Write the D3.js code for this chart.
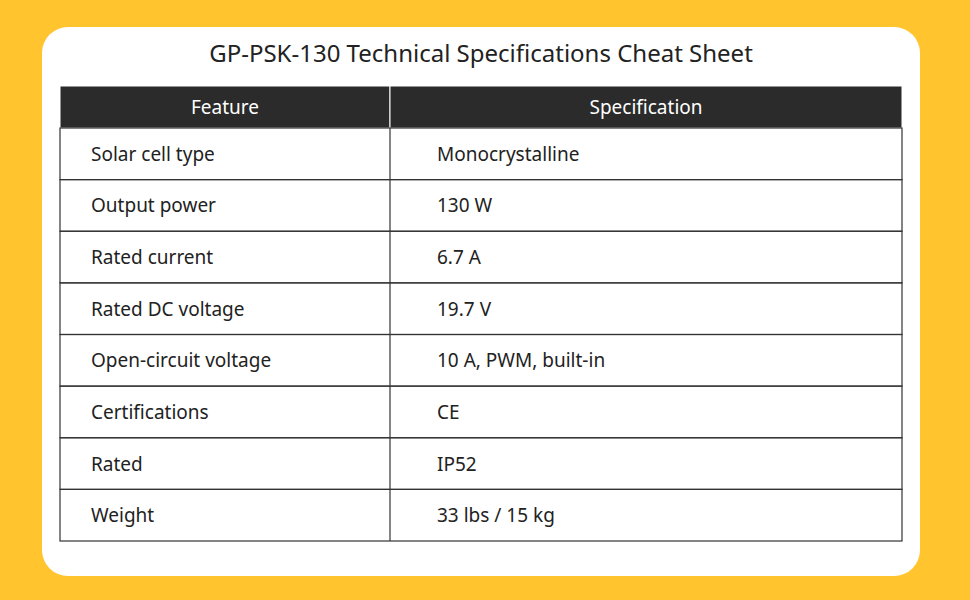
<!DOCTYPE html>
<html lang="en">
<head>
<meta charset="UTF-8">
<title>GP-PSK-130 Specs</title>
<script src="https://cdn.jsdelivr.net/npm/d3@7"></script>
<style>body{margin:0;background:#ffc42e;}</style>
</head>
<body>
<script>
var columns = ["Feature", "Specification"];
var features = ["Solar cell type", "Output power", "Rated current", "Rated DC voltage",
    "Open-circuit voltage", "Certifications", "Rated", "Weight"];
var specs = ["Monocrystalline", "130 W", "6.7 A", "19.7 V",
    "10 A, PWM, built-in", "CE", "IP52", "33 lbs / 15 kg"];

var width = 970, height = 600;
var left = 60, right = 902, split = 390, headTop = 86, headBottom = 128, bottom = 541;

var svg = d3.select("body").append("svg")
    .attr("width", width).attr("height", height)
    .style("font-family", "'Noto Sans', 'Open Sans', sans-serif");

svg.append("rect").attr("width", width).attr("height", height).attr("fill", "#ffc42e");
svg.append("rect").attr("x", 42).attr("y", 27).attr("width", 878).attr("height", 549)
    .attr("rx", 26).attr("fill", "#fff");

svg.append("text").attr("x", (left + right) / 2).attr("y", 62)
    .attr("text-anchor", "middle").attr("font-size", 24).attr("fill", "#222")
    .text("GP-PSK-130 Technical Specifications Cheat Sheet");

var x = d3.scaleOrdinal().domain(columns).range([[left, split], [split, right]]);
var y = d3.scaleBand().domain(d3.range(features.length)).range([headBottom, bottom]);

// header
svg.selectAll(".head").data(columns).enter().append("rect")
    .attr("x", function(d) { return x(d)[0]; }).attr("y", headTop)
    .attr("width", function(d) { return x(d)[1] - x(d)[0]; })
    .attr("height", headBottom - headTop)
    .attr("fill", "#2b2b2b").attr("stroke", "#fff").attr("stroke-width", 1);
svg.selectAll(".headText").data(columns).enter().append("text")
    .attr("x", function(d) { return (x(d)[0] + x(d)[1]) / 2; })
    .attr("y", (headTop + headBottom) / 2 + 7)
    .attr("text-anchor", "middle").attr("font-size", 19).attr("fill", "#fff")
    .text(function(d) { return d; });

// rows
var rows = svg.selectAll(".row").data(features).enter().append("g")
    .attr("transform", function(d, i) { return "translate(0," + y(i) + ")"; });
rows.append("rect").attr("x", left).attr("width", right - left).attr("height", y.bandwidth())
    .attr("fill", "none").attr("stroke", "#333").attr("stroke-width", 1.2);
rows.append("line").attr("x1", split).attr("x2", split).attr("y2", y.bandwidth())
    .attr("stroke", "#333").attr("stroke-width", 1.2);
rows.append("text").attr("x", 91).attr("y", y.bandwidth() / 2 + 7)
    .attr("font-size", 19).attr("fill", "#222").text(function(d) { return d; });
rows.append("text").attr("x", 437).attr("y", y.bandwidth() / 2 + 7)
    .attr("font-size", 19).attr("fill", "#222").text(function(d, i) { return specs[i]; });
</script>
</body>
</html>
